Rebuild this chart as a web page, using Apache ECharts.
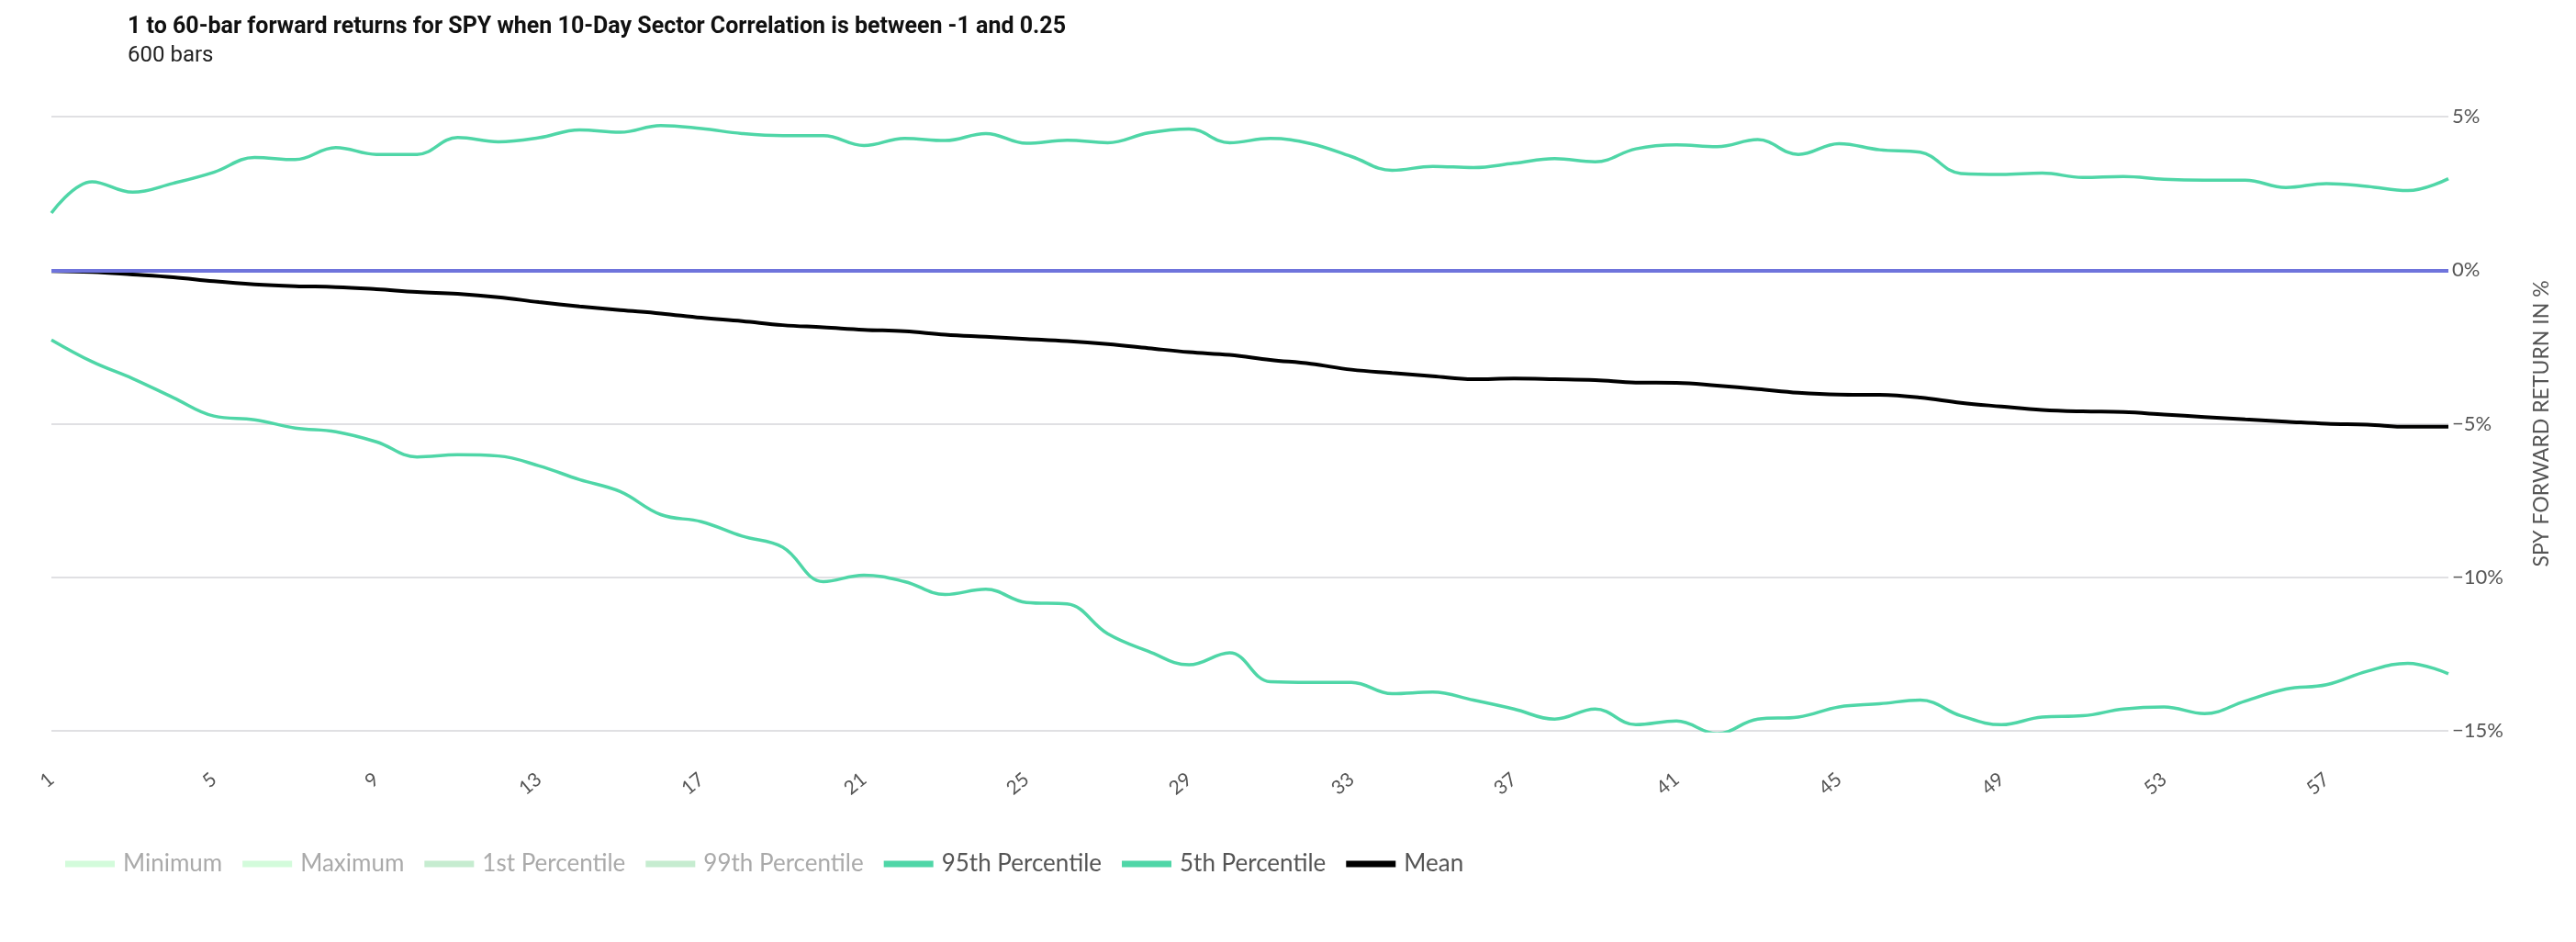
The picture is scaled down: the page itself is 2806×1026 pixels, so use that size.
<!DOCTYPE html>
<html>
<head>
<meta charset="utf-8">
<script src="https://cdn.jsdelivr.net/npm/echarts@6/dist/echarts.min.js"></script>
<style>
html,body{margin:0;padding:0;background:#fff;}
#chart{width:2806px;height:1026px;}
</style>
</head>
<body>
<div id="chart"></div>
<script>
// ---- data ----
var categories = [];
for (var i = 1; i <= 60; i++) categories.push(String(i));

var p95 = [1.86, 2.88, 2.54, 2.83, 3.19, 3.67, 3.60, 3.99, 3.77, 3.77,
           4.32, 4.18, 4.31, 4.57, 4.49, 4.71, 4.61, 4.45, 4.38, 4.38,
           4.06, 4.29, 4.22, 4.45, 4.13, 4.23, 4.15, 4.47, 4.60, 4.15,
           4.29, 4.12, 3.70, 3.25, 3.38, 3.34, 3.48, 3.63, 3.53, 3.95,
           4.08, 4.02, 4.25, 3.77, 4.12, 3.92, 3.84, 3.15, 3.12, 3.16,
           3.02, 3.05, 2.96, 2.93, 2.93, 2.69, 2.82, 2.73, 2.59, 2.98];

var p5 = [-2.27, -2.98, -3.53, -4.15, -4.75, -4.87, -5.14, -5.26, -5.59, -6.08,
          -6.01, -6.05, -6.37, -6.82, -7.21, -7.96, -8.19, -8.66, -9.02, -10.14,
          -9.93, -10.14, -10.56, -10.39, -10.82, -10.87, -11.84, -12.41, -12.85, -12.46,
          -13.40, -13.42, -13.42, -13.79, -13.74, -14.00, -14.29, -14.62, -14.29, -14.80,
          -14.68, -15.09, -14.62, -14.55, -14.22, -14.12, -14.00, -14.51, -14.80, -14.55,
          -14.51, -14.29, -14.22, -14.44, -14.03, -13.64, -13.50, -13.06, -12.80, -13.14];

var mean = [-0.03, -0.06, -0.14, -0.23, -0.36, -0.46, -0.52, -0.55, -0.62, -0.71,
            -0.77, -0.88, -1.04, -1.18, -1.30, -1.41, -1.55, -1.66, -1.79, -1.86,
            -1.94, -1.99, -2.10, -2.17, -2.24, -2.31, -2.41, -2.54, -2.67, -2.76,
            -2.92, -3.05, -3.24, -3.35, -3.45, -3.55, -3.53, -3.55, -3.58, -3.66,
            -3.67, -3.76, -3.87, -3.99, -4.05, -4.06, -4.15, -4.32, -4.44, -4.55,
            -4.60, -4.62, -4.70, -4.78, -4.86, -4.93, -5.00, -5.03, -5.10, -5.10];

var legendNames = ['Minimum', 'Maximum', '1st Percentile', '99th Percentile',
                   '95th Percentile', '5th Percentile', 'Mean'];
var titleText = '1 to 60-bar forward returns for SPY when 10-Day Sector Correlation is between -1 and 0.25';
var subText = '600 bars';
var yName = 'SPY FORWARD RETURN IN %';

// ---- chart ----
var chart = echarts.init(document.getElementById('chart'));
var GREEN = '#4fd6a7';
var labelFont = 'Lato, "Open Sans", sans-serif';

function emptySeries(name, color) {
  return { name: name, type: 'line', data: [], color: color, showSymbol: false,
           lineStyle: { color: color, width: 3 } };
}

var option = {
  animation: false,
  backgroundColor: '#fff',
  title: [
    { text: titleText, left: 134, top: 12,
      textStyle: { fontFamily: 'Roboto, sans-serif', fontWeight: 'bold', fontSize: 25, color: '#111' } },
    { text: subText, left: 134, top: 44,
      textStyle: { fontFamily: 'Roboto, sans-serif', fontWeight: 'normal', fontSize: 24, color: '#222' } }
  ],
  legend: {
    left: 66, top: 923,
    icon: 'rect', itemWidth: 54, itemHeight: 7, itemGap: 22,
    textStyle: { fontFamily: labelFont, fontSize: 26, color: '#555', padding: [0, 0, 0, 4] },
    data: [
      { name: legendNames[0], textStyle: { color: '#aaa' } },
      { name: legendNames[1], textStyle: { color: '#aaa' } },
      { name: legendNames[2], textStyle: { color: '#aaa' } },
      { name: legendNames[3], textStyle: { color: '#aaa' } },
      { name: legendNames[4] },
      { name: legendNames[5] },
      { name: legendNames[6] }
    ]
  },
  grid: { left: 56, right: 139, top: 127, bottom: 230 },
  xAxis: {
    type: 'category', data: categories, boundaryGap: false,
    axisLine: { show: false }, axisTick: { show: false },
    axisLabel: { interval: 3, rotate: 40, margin: 50, fontFamily: labelFont, fontSize: 21, color: '#555' },
    splitLine: { show: false }
  },
  yAxis: {
    type: 'value', position: 'right', min: -15, max: 5, interval: 5,
    axisLine: { show: false }, axisTick: { show: false },
    axisLabel: { margin: 4, fontFamily: labelFont, fontSize: 22, color: '#555',
      formatter: function (v) { return (v < 0 ? '\u2212' + Math.abs(v) : v) + '%'; } },
    splitLine: { lineStyle: { color: '#d6d6da', width: 1.5 } },
    name: yName, nameLocation: 'middle', nameRotate: 90, nameGap: 90,
    nameTextStyle: { fontFamily: labelFont, fontSize: 23, color: '#555' }
  },
  series: [
    emptySeries(legendNames[0], '#d3fbdb'),
    emptySeries(legendNames[1], '#d3fbdb'),
    emptySeries(legendNames[2], '#c6ecd0'),
    emptySeries(legendNames[3], '#c6ecd0'),
    { name: legendNames[4], type: 'line', data: p95, color: GREEN, smooth: 0.4, showSymbol: false,
      lineStyle: { color: GREEN, width: 3.5 } },
    { name: legendNames[5], type: 'line', data: p5, color: GREEN, smooth: 0.4, showSymbol: false,
      lineStyle: { color: GREEN, width: 3.5 } },
    { name: legendNames[6], type: 'line', data: mean, color: '#000', smooth: 0.4, showSymbol: false,
      lineStyle: { color: '#000', width: 4 }, z: 3,
      markLine: { silent: true, symbol: 'none', label: { show: false },
        lineStyle: { color: '#6f74dc', width: 4, type: 'solid' },
        data: [{ yAxis: 0 }] } }
  ]
};
chart.setOption(option);
</script>
</body>
</html>
